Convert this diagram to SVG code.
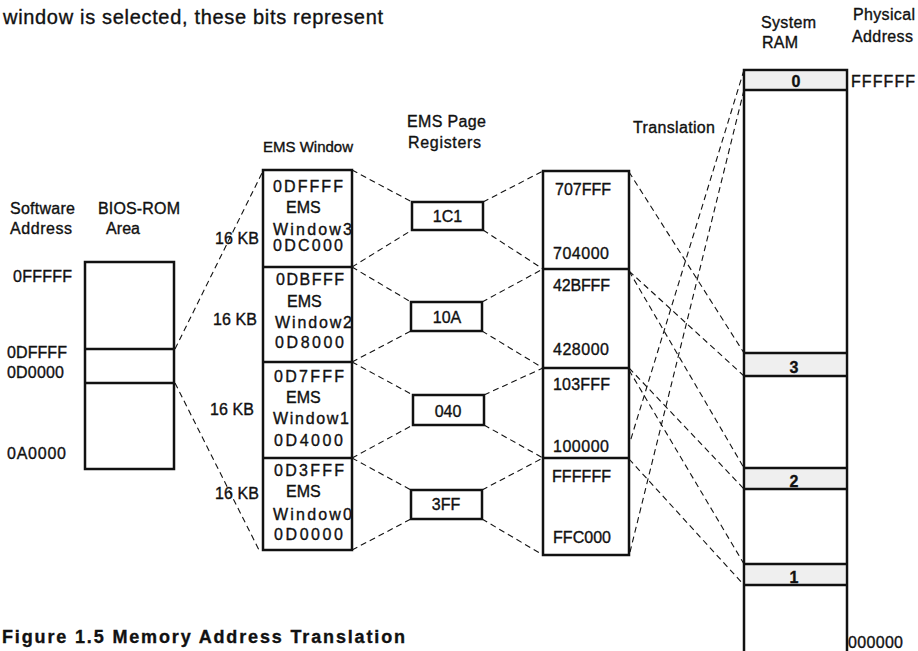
<svg xmlns="http://www.w3.org/2000/svg" width="918" height="651" viewBox="0 0 918 651">
<style>
text{font-family:"Liberation Sans",Arial,Helvetica,sans-serif;font-size:16px;fill:#111;stroke:#111;stroke-width:0.35}
.box{fill:#fff;stroke:#111;stroke-width:2.5}
.div{stroke:#111;stroke-width:2.5;fill:none}
.dash{stroke:#111;stroke-width:1.1;stroke-dasharray:6 4;fill:none}
.band{fill:#efefef;stroke:none}
.num{font-weight:bold;text-anchor:middle}
.mid{text-anchor:middle}
</style>
<rect width="918" height="651" fill="#fff"/>
<text x="3" y="24" style="font-size:20px" textLength="380" lengthAdjust="spacing">window is selected, these bits represent</text>

<g id="headers">
<text x="10" y="214" textLength="65" lengthAdjust="spacing">Software</text>
<text x="10" y="234" textLength="62" lengthAdjust="spacing">Address</text>
<text x="98" y="214" textLength="82" lengthAdjust="spacing">BIOS-ROM</text>
<text x="106" y="234" textLength="34" lengthAdjust="spacing">Area</text>
<text x="263" y="152" style="font-size:15px">EMS Window</text>
<text x="407" y="127" textLength="79" lengthAdjust="spacing">EMS Page</text>
<text x="408" y="148" textLength="73" lengthAdjust="spacing">Registers</text>
<text x="633" y="133" textLength="82" lengthAdjust="spacing">Translation</text>
<text x="761" y="28" textLength="55" lengthAdjust="spacing">System</text>
<text x="762" y="48" textLength="36" lengthAdjust="spacing">RAM</text>
<text x="853" y="20" textLength="62" lengthAdjust="spacing">Physical</text>
<text x="852" y="42" textLength="61" lengthAdjust="spacing">Address</text>
</g>

<g id="connectors">
<line class="dash" x1="175" y1="349" x2="263" y2="171"/>
<line class="dash" x1="175" y1="383" x2="259" y2="550"/>
<line class="dash" x1="352" y1="170" x2="412" y2="202"/>
<line class="dash" x1="352" y1="267" x2="412" y2="230"/>
<line class="dash" x1="352" y1="267" x2="411" y2="302"/>
<line class="dash" x1="352" y1="362" x2="411" y2="331"/>
<line class="dash" x1="352" y1="362" x2="413" y2="395"/>
<line class="dash" x1="352" y1="458" x2="413" y2="425"/>
<line class="dash" x1="352" y1="458" x2="411" y2="490"/>
<line class="dash" x1="352" y1="550" x2="411" y2="519"/>
<line class="dash" x1="483" y1="202" x2="543" y2="171"/>
<line class="dash" x1="483" y1="230" x2="543" y2="269"/>
<line class="dash" x1="482" y1="302" x2="543" y2="269"/>
<line class="dash" x1="482" y1="331" x2="543" y2="368"/>
<line class="dash" x1="484" y1="395" x2="543" y2="368"/>
<line class="dash" x1="484" y1="425" x2="543" y2="458"/>
<line class="dash" x1="482" y1="490" x2="543" y2="458"/>
<line class="dash" x1="482" y1="519" x2="543" y2="555"/>
<line class="dash" x1="629" y1="172" x2="744" y2="353"/>
<line class="dash" x1="629" y1="271" x2="744" y2="376"/>
<line class="dash" x1="629" y1="271" x2="744" y2="468"/>
<line class="dash" x1="629" y1="368" x2="744" y2="489"/>
<line class="dash" x1="629" y1="370" x2="744" y2="564"/>
<line class="dash" x1="629" y1="459" x2="744" y2="585"/>
<line class="dash" x1="744" y1="70" x2="630" y2="442"/>
<line class="dash" x1="744" y1="90" x2="630" y2="552"/>
</g>

<g id="bios-rom">
<rect class="box" x="85" y="262" width="89" height="207"/>
<line class="div" x1="85" y1="349" x2="174" y2="349"/>
<line class="div" x1="85" y1="383" x2="174" y2="383"/>
<text x="13" y="282" textLength="59" lengthAdjust="spacing">0FFFFF</text>
<text x="7" y="358" textLength="60" lengthAdjust="spacing">0DFFFF</text>
<text x="7" y="378" textLength="57" lengthAdjust="spacing">0D0000</text>
<text x="7" y="459" textLength="59" lengthAdjust="spacing">0A0000</text>
</g>

<g id="ems-window">
<rect class="box" x="263" y="170" width="89" height="380"/>
<line class="div" x1="263" y1="267" x2="352" y2="267"/>
<line class="div" x1="263" y1="362" x2="352" y2="362"/>
<line class="div" x1="263" y1="458" x2="352" y2="458"/>
<text x="215" y="244" textLength="44" lengthAdjust="spacing">16 KB</text>
<text x="213" y="325" textLength="44" lengthAdjust="spacing">16 KB</text>
<text x="210" y="415" textLength="44" lengthAdjust="spacing">16 KB</text>
<text x="215" y="499" textLength="44" lengthAdjust="spacing">16 KB</text>
</g>
<g id="ems-window3">
<text x="273" y="192" textLength="70" lengthAdjust="spacing">0DFFFF</text>
<text x="286" y="213">EMS</text>
<text x="273" y="235" textLength="79" lengthAdjust="spacing">Window3</text>
<text x="273" y="251" textLength="70" lengthAdjust="spacing">0DC000</text>
</g>
<g id="ems-window2">
<text x="276" y="285" textLength="68" lengthAdjust="spacing">0DBFFF</text>
<text x="287" y="307">EMS</text>
<text x="275" y="328" textLength="77" lengthAdjust="spacing">Window2</text>
<text x="275" y="348" textLength="69" lengthAdjust="spacing">0D8000</text>
</g>
<g id="ems-window1">
<text x="274" y="382" textLength="70" lengthAdjust="spacing">0D7FFF</text>
<text x="286" y="403">EMS</text>
<text x="273" y="424" textLength="76" lengthAdjust="spacing">Window1</text>
<text x="274" y="446" textLength="69" lengthAdjust="spacing">0D4000</text>
</g>
<g id="ems-window0">
<text x="274" y="476" textLength="70" lengthAdjust="spacing">0D3FFF</text>
<text x="286" y="497">EMS</text>
<text x="273" y="520" textLength="79" lengthAdjust="spacing">Window0</text>
<text x="274" y="540" textLength="69" lengthAdjust="spacing">0D0000</text>
</g>

<g id="reg-1C1">
<rect class="box" x="412" y="202" width="71" height="28"/>
<text class="mid" x="447.5" y="222">1C1</text>
</g>
<g id="reg-10A">
<rect class="box" x="411" y="302" width="71" height="29"/>
<text class="mid" x="447" y="323">10A</text>
</g>
<g id="reg-040">
<rect class="box" x="413" y="395" width="71" height="30"/>
<text class="mid" x="448" y="417">040</text>
</g>
<g id="reg-3FF">
<rect class="box" x="411" y="490" width="71" height="29"/>
<text class="mid" x="446" y="510">3FF</text>
</g>

<g id="translation">
<rect class="box" x="543" y="171" width="86" height="384"/>
<line class="div" x1="543" y1="269" x2="629" y2="269"/>
<line class="div" x1="543" y1="368" x2="629" y2="368"/>
<line class="div" x1="543" y1="458" x2="629" y2="458"/>
<text x="555" y="195" textLength="56" lengthAdjust="spacing">707FFF</text>
<text x="553" y="259" textLength="56" lengthAdjust="spacing">704000</text>
<text x="553" y="291" textLength="57" lengthAdjust="spacing">42BFFF</text>
<text x="553" y="355" textLength="56" lengthAdjust="spacing">428000</text>
<text x="553" y="390" textLength="57" lengthAdjust="spacing">103FFF</text>
<text x="553" y="452" textLength="56" lengthAdjust="spacing">100000</text>
<text x="552" y="482" textLength="59" lengthAdjust="spacing">FFFFFF</text>
<text x="553" y="543" textLength="58" lengthAdjust="spacing">FFC000</text>
</g>

<g id="system-ram">
<text x="848" y="648" textLength="55" lengthAdjust="spacing">000000</text>
<rect class="box" x="744" y="70" width="103" height="600"/>
<rect class="band" x="746" y="72" width="99" height="17"/>
<rect class="band" x="746" y="354" width="99" height="21"/>
<rect class="band" x="746" y="469" width="99" height="19"/>
<rect class="band" x="746" y="565" width="99" height="19"/>
<line class="div" x1="744" y1="90" x2="847" y2="90"/>
<line class="div" x1="744" y1="353" x2="847" y2="353"/>
<line class="div" x1="744" y1="376" x2="847" y2="376"/>
<line class="div" x1="744" y1="468" x2="847" y2="468"/>
<line class="div" x1="744" y1="489" x2="847" y2="489"/>
<line class="div" x1="744" y1="564" x2="847" y2="564"/>
<line class="div" x1="744" y1="585" x2="847" y2="585"/>
<text class="num" x="796" y="87">0</text>
<text class="num" x="794" y="373">3</text>
<text class="num" x="794" y="487">2</text>
<text class="num" x="794" y="583">1</text>
<text x="851" y="87" textLength="64" lengthAdjust="spacing">FFFFFF</text>
</g>

<text x="2" y="643" style="font-size:18px;font-weight:bold" textLength="403" lengthAdjust="spacing">Figure 1.5  Memory Address Translation</text>
</svg>
